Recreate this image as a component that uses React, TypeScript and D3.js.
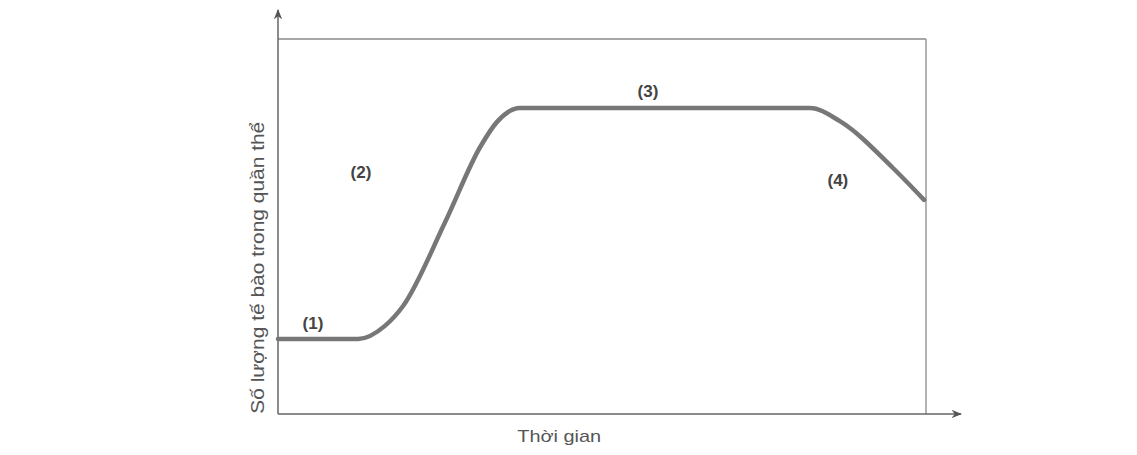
import * as d3 from 'd3';
import React from 'react';

// growth curve, time 0..100, population 0..100
const curveTime = [0, 12.35, 16.5, 19.3, 25.8, 31.2, 33.8, 37.3, 82.1, 86.7, 94.9, 99.7];
const curveCount = [20, 20, 23.5, 28.8, 51.2, 71.2, 77.9, 81.6, 81.6, 78.1, 65.6, 57.1];

const phaseLabels = ['(1)', '(2)', '(3)', '(4)'];
const phaseTime = [5.4, 12.8, 57.1, 86.4];
const phaseCount = [22.7, 62.9, 84.5, 60.8];

const xTitle = 'Thời gian';
const yTitle = 'Số lượng tế bào trong quần thể';

export default function App() {
    const width = 1137;
    const height = 455;
    const margin = { top: 39, right: 211, bottom: 41, left: 278 };
    const bw = width - margin.left - margin.right;
    const bh = height - margin.top - margin.bottom;

    const xScale = d3.scaleLinear().domain([0, 100]).range([0, bw]);
    const yScale = d3.scaleLinear().domain([0, 100]).range([bh, 0]);

    const pts: [number, number][] = curveTime.map((t, i) => [t, curveCount[i]]);
    const line = d3.line<[number, number]>()
        .x((d) => xScale(d[0]))
        .y((d) => yScale(d[1]))
        .curve(d3.curveMonotoneX);

    const axisColor = '#666';
    const font = 'Liberation Sans, Arial, sans-serif';

    return (
        <svg width={width} height={height} style={{ position: 'absolute', left: 0, top: 0 }}>
            <defs>
                <marker id="arrow" viewBox="0 0 10 10" refX="9" refY="5" markerWidth="7" markerHeight="7" orient="auto">
                    <path d="M0,1 L10,5 L0,9 L3,5 Z" fill="#555" />
                </marker>
            </defs>
            <g transform={`translate(${margin.left},${margin.top})`}>
                {/* frame */}
                <line x1={0} x2={bw} y1={0} y2={0} stroke="#888" strokeWidth={1.5} />
                <line x1={bw} x2={bw} y1={0} y2={bh} stroke="#999" strokeWidth={1.5} />
                {/* axes */}
                <line x1={0} x2={0} y1={bh} y2={-29} stroke={axisColor} strokeWidth={1.5} markerEnd="url(#arrow)" />
                <line x1={0} x2={bw + 35} y1={bh} y2={bh} stroke={axisColor} strokeWidth={1.5} markerEnd="url(#arrow)" />
                {/* curve */}
                <path d={line(pts) || ''} fill="none" stroke="#777" strokeWidth={4.5} strokeLinecap="round" />
                {phaseLabels.map((l, i) => (
                    <text key={l} x={xScale(phaseTime[i])} y={yScale(phaseCount[i])} textAnchor="middle"
                        fontFamily={font} fontWeight="bold" fontSize={17} fill="#444">
                        {l}
                    </text>
                ))}
                <text x={xScale(43.4)} y={bh + 28} textAnchor="middle" fontFamily={font}
                    fontSize={17} fill="#555" textLength={84} lengthAdjust="spacingAndGlyphs">{xTitle}</text>
                <text transform={`translate(-14,${yScale(39)}) rotate(-90)`} textAnchor="middle"
                    fontFamily={font} fontSize={18} fill="#555" textLength={292}
                    lengthAdjust="spacingAndGlyphs">{yTitle}</text>
            </g>
        </svg>
    );
}
